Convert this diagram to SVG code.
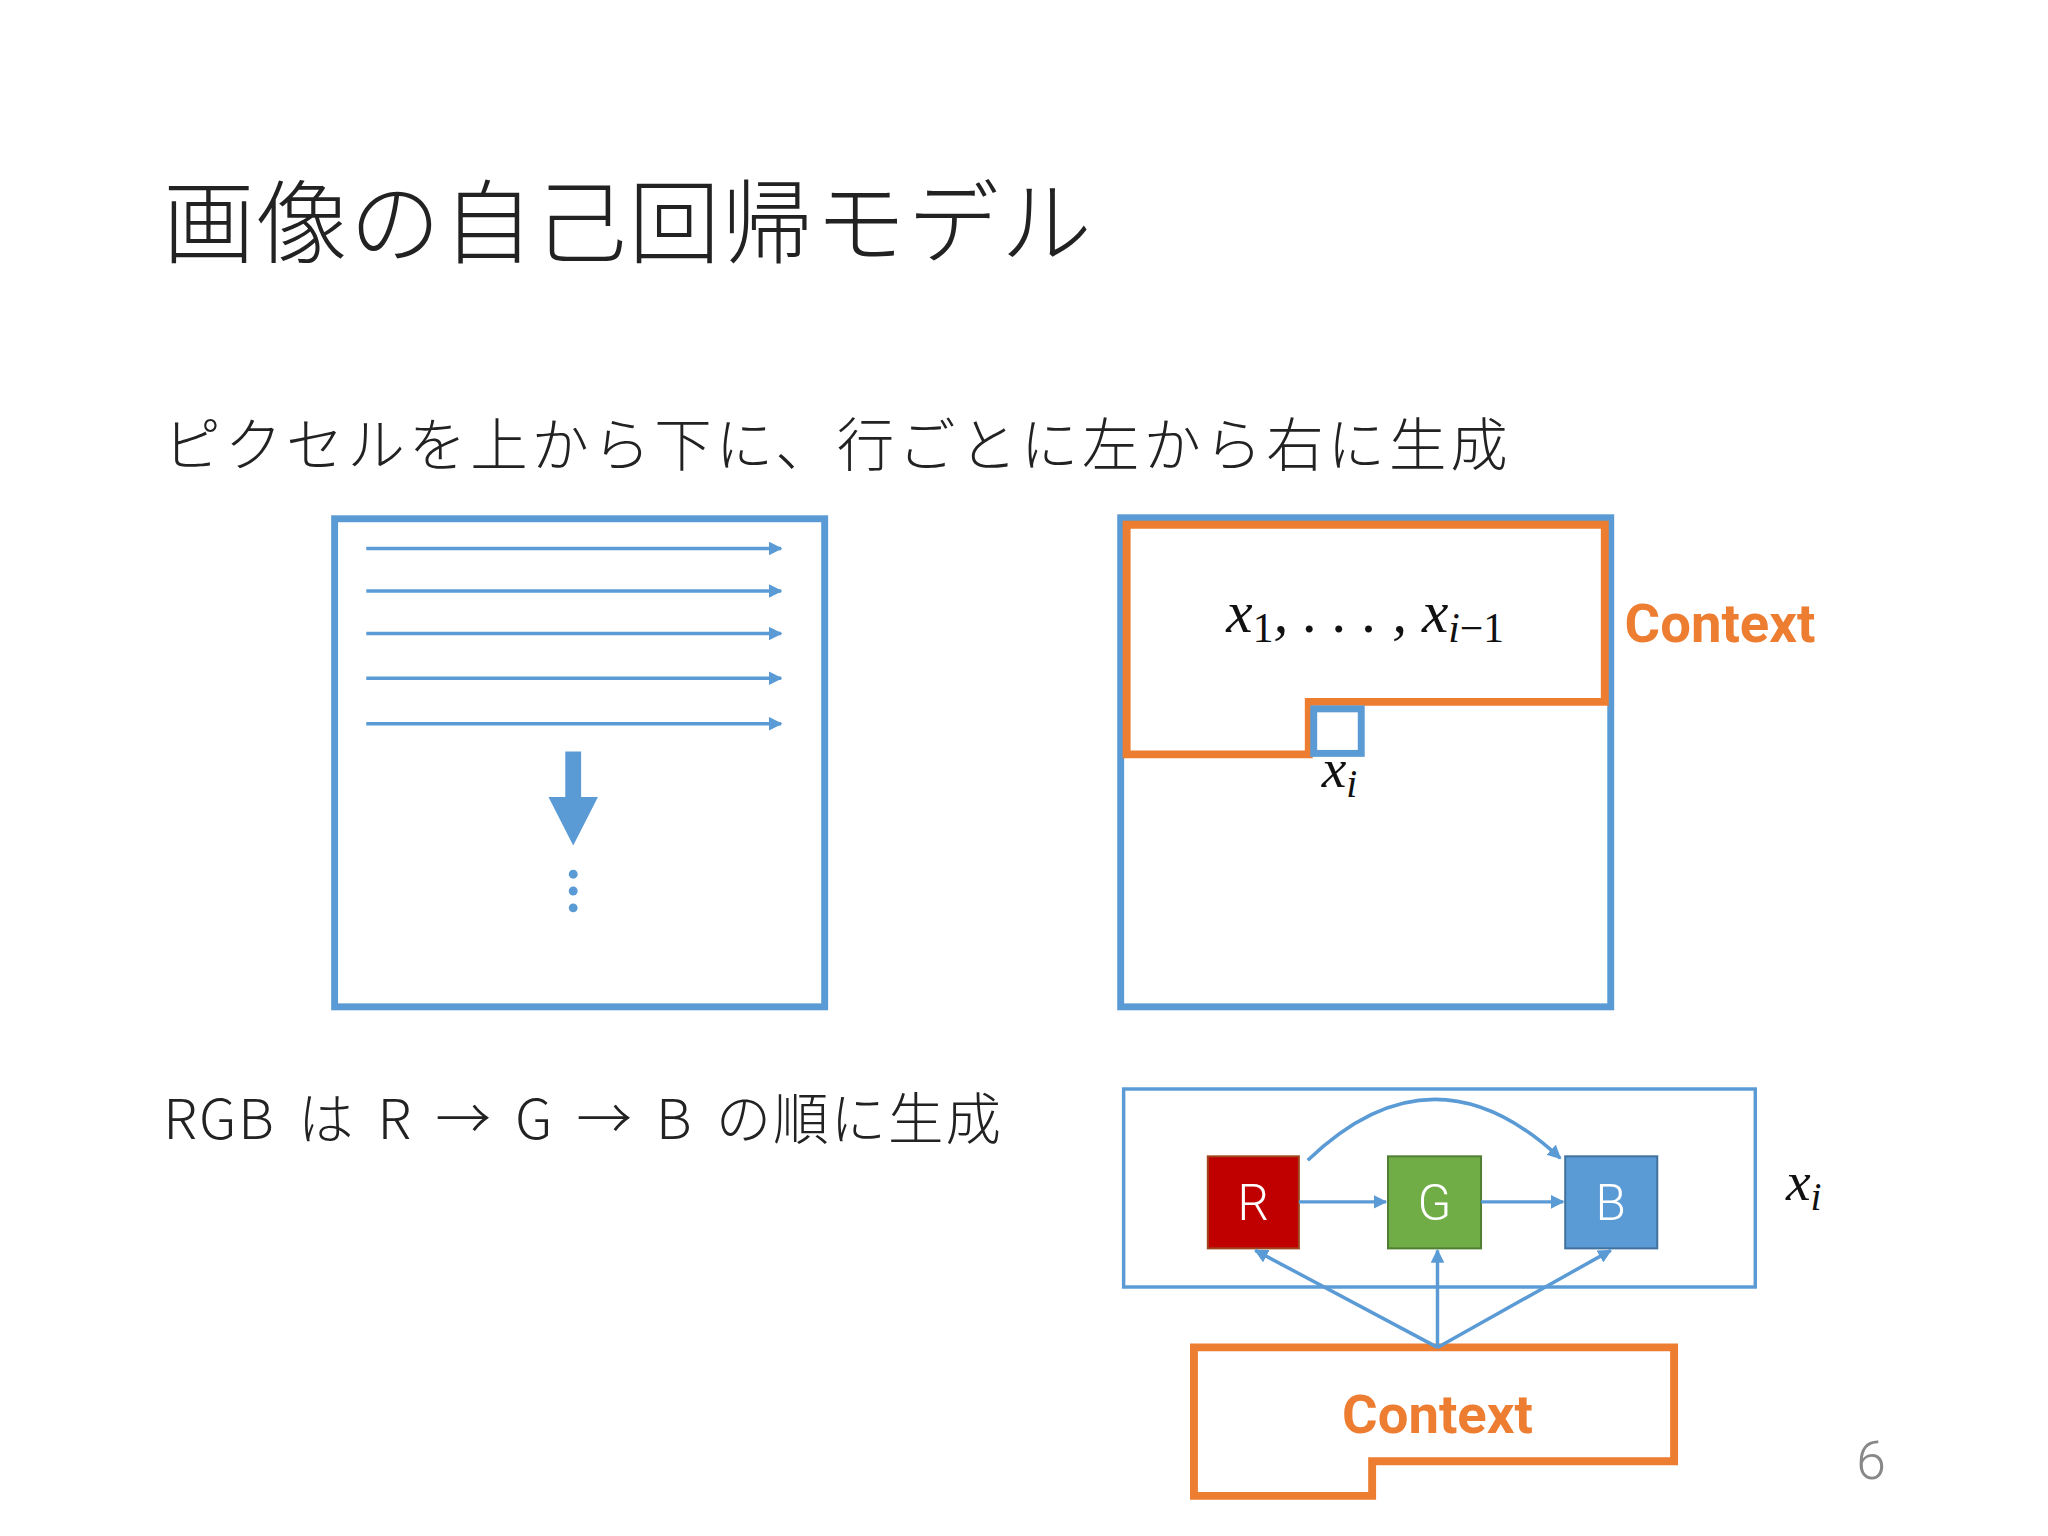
<svg xmlns="http://www.w3.org/2000/svg" width="2048" height="1536" viewBox="0 0 2048 1536">
<defs>
<marker id="ah" viewBox="0 0 10 10" refX="9" refY="5" markerWidth="4" markerHeight="4" orient="auto"><path d="M0,0 L10,5 L0,10 z" fill="#5b9bd5"/></marker>
<style>
.jp{font-family:"Noto Sans CJK JP","Noto Sans",sans-serif;font-weight:300;fill:#222}
.m{font-family:"Liberation Serif",serif;font-style:italic;fill:#111}
.ctx{font-family:"Roboto","Liberation Sans",sans-serif;font-weight:bold;fill:#ed7d31}
.bl{fill:none;stroke:#5b9bd5}
.or{fill:none;stroke:#ed7d31;stroke-width:8}
.ln{stroke:#5b9bd5;stroke-width:3.5;fill:none;marker-end:url(#ah)}
.lab{font-family:"Roboto","Liberation Sans",sans-serif;font-size:50px;font-weight:300;fill:#fff;text-anchor:middle}
</style>
</defs>
<rect width="2048" height="1536" fill="#fff"/>
<g transform="scale(0.99)">
<text class="jp" x="165" y="259" font-size="92" letter-spacing="2">画像の自己回帰モデル</text>
<text class="jp" x="165" y="471" font-size="58" letter-spacing="4">ピクセルを上から下に、行ごとに左から右に生成</text>
<text class="jp" x="165" y="1151" font-size="56" letter-spacing="2" word-spacing="8">RGB は R → G → B の順に生成</text>
<g id="left-panel">
<rect class="bl" x="338" y="524" width="495" height="493" stroke-width="7"/>
<line class="ln" x1="370" y1="554" x2="789" y2="554"/>
<line class="ln" x1="370" y1="597" x2="789" y2="597"/>
<line class="ln" x1="370" y1="640" x2="789" y2="640"/>
<line class="ln" x1="370" y1="685" x2="789" y2="685"/>
<line class="ln" x1="370" y1="731" x2="789" y2="731"/>
<path d="M571,759 H587 V805 H604 L579,854 L554,805 H571 Z" fill="#5b9bd5"/>
<circle cx="579" cy="883" r="4.5" fill="#5b9bd5"/>
<circle cx="579" cy="900" r="4.5" fill="#5b9bd5"/>
<circle cx="579" cy="917" r="4.5" fill="#5b9bd5"/>
</g>
<g id="right-panel">
<rect class="bl" x="1132" y="523" width="495" height="494" stroke-width="7"/>
<polygon class="or" points="1138,530 1621,530 1621,709 1322,709 1322,762 1138,762"/>
<rect class="bl" x="1327" y="716" width="48" height="45" stroke-width="7"/>
<text class="m" x="1379" y="638" font-size="60" text-anchor="middle">x<tspan font-style="normal" font-size="42" dy="10">1</tspan><tspan dy="-10">, . . . , x</tspan><tspan font-size="42" dy="10">i<tspan font-style="normal">−1</tspan></tspan></text>
<text class="m" x="1353" y="795" font-size="56" text-anchor="middle">x<tspan font-size="40" dy="10">i</tspan></text>
<text class="ctx" x="1641" y="648" font-size="55">Context</text>
</g>
<g id="rgb">
<rect class="bl" x="1135" y="1100" width="638" height="200" stroke-width="3.5"/>
<g id="R"><rect x="1220" y="1168" width="92" height="93" fill="#c00000" stroke="#a0461e" stroke-width="2"/><text class="lab" x="1266" y="1232">R</text></g>
<g id="G"><rect x="1402" y="1168" width="94" height="93" fill="#70ad47" stroke="#507e32" stroke-width="2"/><text class="lab" x="1449" y="1232">G</text></g>
<g id="B"><rect x="1581" y="1168" width="93" height="93" fill="#5b9bd5" stroke="#41719c" stroke-width="2"/><text class="lab" x="1627" y="1232">B</text></g>
<text class="m" x="1822" y="1212" font-size="56" text-anchor="middle">x<tspan font-size="40" dy="10">i</tspan></text>
<g id="ctx2"><polygon class="or" points="1206,1361 1691,1361 1691,1476 1386,1476 1386,1511 1206,1511"/><text class="ctx" x="1452" y="1447" font-size="55" text-anchor="middle">Context</text></g>
</g>
<g id="connectors">
<line class="ln" x1="1312" y1="1214" x2="1400" y2="1214"/>
<line class="ln" x1="1496" y1="1214" x2="1579" y2="1214"/>
<path class="ln" d="M1321,1172 Q1448,1050 1576,1170"/>
<line class="ln" x1="1452" y1="1361" x2="1268" y2="1263"/>
<line class="ln" x1="1452" y1="1361" x2="1452" y2="1263"/>
<line class="ln" x1="1452" y1="1361" x2="1627" y2="1263"/>
</g>
<text x="1890" y="1494" font-family="Roboto,'Liberation Sans',sans-serif" font-weight="300" font-size="54" fill="#888" text-anchor="middle">6</text>
</g>
</svg>
